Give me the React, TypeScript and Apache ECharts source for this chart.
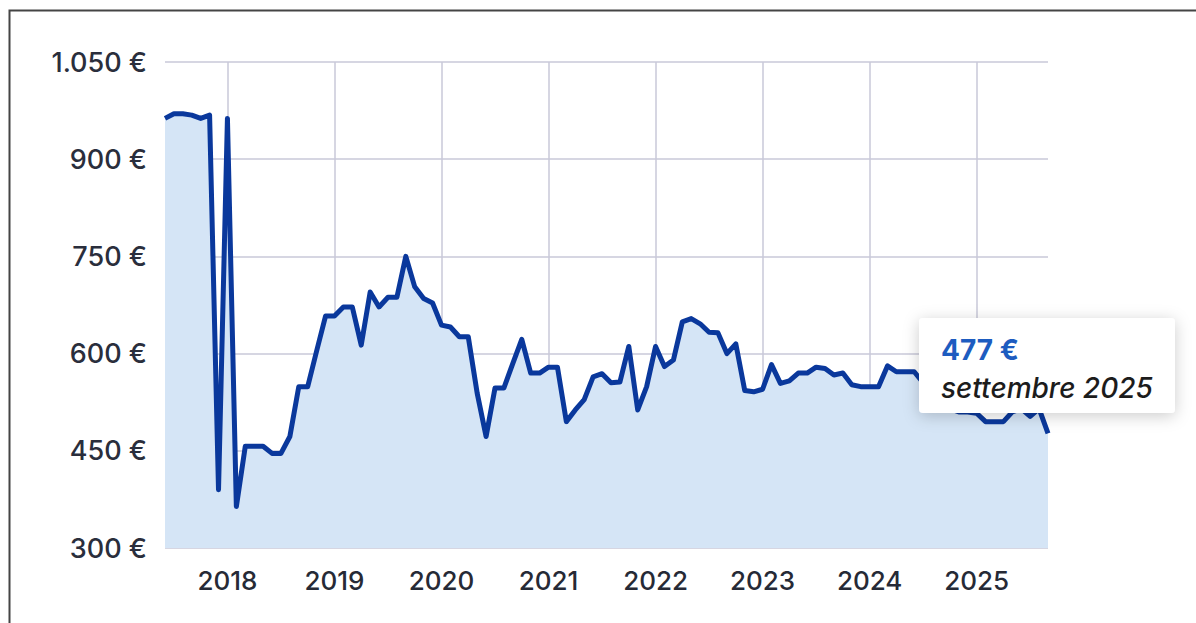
import React, { useEffect, useRef } from "react";
import * as echarts from "echarts";

const months: string[] = [];
for (let y = 2017; y <= 2025; y++) {
  const startM = y === 2017 ? 6 : 1;
  const endM = y === 2025 ? 9 : 12;
  for (let m = startM; m <= endM; m++) months.push(`${y}-${String(m).padStart(2, "0")}`);
}

const prices2017 = [963, 970, 970, 968, 963, 968, 390];
const prices2018 = [963, 364, 457, 457, 457, 446, 446, 472, 549, 549, 604, 658];
const prices2019 = [658, 672, 672, 613, 695, 672, 687, 687, 750, 703, 685, 678];
const prices2020 = [644, 641, 626, 626, 539, 472, 547, 547, 585, 622, 570, 570];
const prices2021 = [579, 579, 495, 513, 529, 564, 569, 555, 556, 611, 513, 549];
const prices2022 = [611, 580, 590, 649, 654, 646, 633, 632, 600, 615, 543, 541];
const prices2023 = [545, 583, 554, 558, 570, 570, 579, 577, 567, 570, 552, 549];
const prices2024 = [549, 549, 581, 572, 572, 572, 555, 530, 520, 515, 510, 510];
const prices2025 = [508, 495, 495, 495, 510, 515, 503, 515, 477];

const prices = [
  ...prices2017, ...prices2018, ...prices2019, ...prices2020, ...prices2021,
  ...prices2022, ...prices2023, ...prices2024, ...prices2025,
];

const yTicks = [300, 450, 600, 750, 900, 1050];
const tooltipValue = "477 €";
const tooltipDate = "settembre 2025";

function fmtEuro(v: number): string {
  const s = String(Math.round(v));
  const g = s.length > 3 ? s.slice(0, s.length - 3) + "." + s.slice(s.length - 3) : s;
  return g + " €";
}

const isJan = (idx: number) => !!months[idx] && months[idx].endsWith("-01");

export default function App() {
  const ref = useRef<HTMLDivElement>(null);
  useEffect(() => {
    if (!ref.current) return;
    const chart = echarts.init(ref.current, undefined, { renderer: "svg" });
    const font = "Inter, 'Open Sans', sans-serif";
    chart.setOption({
      animation: false,
      backgroundColor: "#ffffff",
      grid: { left: 165, right: 148, top: 62, bottom: 75, containLabel: false },
      xAxis: {
        type: "category",
        data: months,
        boundaryGap: false,
        axisLine: { show: false },
        axisTick: { show: false },
        axisLabel: {
          interval: (idx: number) => isJan(idx),
          formatter: (v: string) => v.slice(0, 4),
          color: "#262a36",
          fontSize: 26,
          fontWeight: 500,
          fontFamily: font,
          margin: 19,
        },
        splitLine: {
          show: true,
          interval: (idx: number) => isJan(idx),
          lineStyle: { color: "#c9c9d8", width: 1.5 },
        },
      },
      yAxis: {
        type: "value",
        min: yTicks[0],
        max: yTicks[yTicks.length - 1],
        interval: 150,
        axisLine: { show: false },
        axisTick: { show: false },
        axisLabel: {
          formatter: (v: number) => fmtEuro(v),
          color: "#2a2e3c",
          fontSize: 27,
          fontWeight: 500,
          fontFamily: font,
          margin: 18,
        },
        splitLine: { show: true, lineStyle: { color: "#c9c9d8", width: 1.5 } },
      },
      series: [
        {
          type: "line",
          data: prices,
          symbol: "none",
          lineStyle: { color: "#0a389c", width: 5, join: "round" },
          areaStyle: { color: "#d5e5f6", opacity: 1 },
        },
      ],
      graphic: [
        {
          type: "rect",
          left: 7,
          top: 8,
          shape: { x: 0, y: 0, width: 1300, height: 700 },
          style: { fill: "none", stroke: "#444", lineWidth: 2 },
          silent: true,
          z: 200,
          zlevel: 1,
        },
        {
          type: "rect",
          x: 919,
          y: 318,
          z: 200,
          zlevel: 1,
          shape: { x: 0, y: 0, width: 256, height: 95, r: 4 },
          style: {
            fill: "#ffffff",
            shadowBlur: 16,
            shadowColor: "rgba(0,0,0,0.2)",
            shadowOffsetX: 0,
            shadowOffsetY: 3,
          },
        },
        {
          type: "text",
          x: 941,
          y: 350,
          z: 201,
          zlevel: 1,
          style: {
            text: tooltipValue,
            fill: "#1d5cc0",
            font: `bold 28px ${font}`,
            verticalAlign: "middle",
          },
        },
        {
          type: "text",
          x: 941,
          y: 388,
          z: 201,
          zlevel: 1,
          style: {
            text: tooltipDate,
            fill: "#1c1c1c",
            font: `italic 500 28px ${font}`,
            verticalAlign: "middle",
          },
        },
      ],
    });
    return () => chart.dispose();
  }, []);
  return (
    <div
      ref={ref}
      style={{ position: "fixed", left: 0, top: 0, width: 1196, height: 623 }}
    />
  );
}
